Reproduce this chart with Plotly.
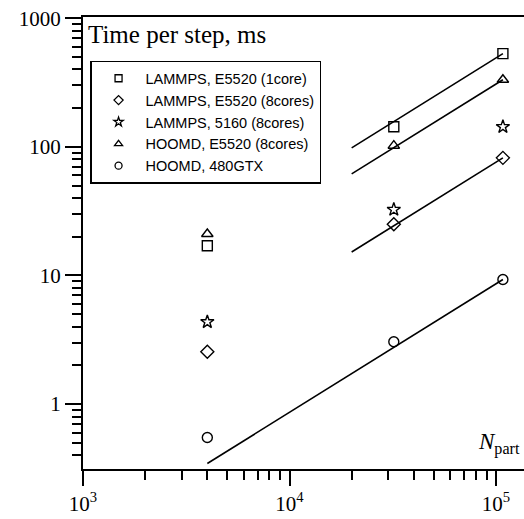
import plotly.graph_objects as go

# Number of particles in each benchmark system
n_part = [4000, 32000, 108000]

# Wall time per MD step, ms
series_names = [
    "LAMMPS, E5520 (1core)",
    "LAMMPS, E5520 (8cores)",
    "LAMMPS, 5160 (8cores)",
    "HOOMD, E5520 (8cores)",
    "HOOMD, 480GTX",
]
lammps_e5520_1core = [17.0, 143.0, 530.0]
lammps_e5520_8cores = [2.55, 25.0, 82.0]
lammps_5160_8cores = [4.35, 32.5, 143.0]
hoomd_e5520_8cores = [21.0, 102.0, 332.0]
hoomd_480gtx = [0.55, 3.05, 9.3]

# Linear-scaling guide lines (start/end particle number, start/end time)
guide_n = [[20000, 108000], [20000, 108000], [20000, 108000], [4000, 108000]]
guide_t = [[98.0, 530.0], [61.5, 332.0], [15.2, 82.0], [0.345, 9.3]]

symbols = ["square-open", "diamond-open", "star-open", "triangle-up-open", "circle-open"]
sizes = [10, 10, 10, 10, 10]
values = [lammps_e5520_1core, lammps_e5520_8cores, lammps_5160_8cores,
          hoomd_e5520_8cores, hoomd_480gtx]

# Tick positions and labels
y_major = [1, 10, 100, 1000]
y_major_text = ["1", "10", "100", "1000"]
x_major = [1e3, 1e4, 1e5]
x_major_text = ["10<sup>3</sup>", "10<sup>4</sup>", "10<sup>5</sup>"]

x_range = [3, 5.1356]
y_range = [-0.505, 3.009]

fig = go.Figure()

for gx, gy in zip(guide_n, guide_t):
    fig.add_trace(go.Scatter(
        x=gx, y=gy, mode="lines", showlegend=False, hoverinfo="skip",
        line=dict(color="black", width=1.6),
    ))

for name, vals, sym, sz in zip(series_names, values, symbols, sizes):
    fig.add_trace(go.Scatter(
        x=n_part, y=vals, mode="markers", name=name, showlegend=False,
        marker=dict(symbol=sym, size=sz, color="black",
                    line=dict(color="black", width=1.4)),
    ))

# Legend entries drawn with smaller symbols
for name, sym in zip(series_names, symbols):
    fig.add_trace(go.Scatter(
        x=[None], y=[None], mode="markers", name=name,
        marker=dict(symbol=sym, size=7, color="black",
                    line=dict(color="black", width=1.3)),
    ))

serif = "Liberation Serif, Times New Roman, serif"
minor_ticks = dict(ticks="outside", ticklen=9, tickwidth=2, tickcolor="black",
                   dtick="D1", showgrid=False)

fig.update_layout(
    width=524, height=519,
    margin=dict(l=83, r=0, t=17, b=50),
    paper_bgcolor="white", plot_bgcolor="white",
    showlegend=True,
    legend=dict(
        x=0.016, y=0.903, xanchor="left", yanchor="top",
        bordercolor="black", borderwidth=1.5, bgcolor="white",
        font=dict(family="Liberation Sans, Arial, sans-serif", size=14.5, color="black"),
        itemwidth=44, tracegroupgap=0,
    ),
    xaxis=dict(
        type="log", range=x_range,
        showline=True, linecolor="black", linewidth=2, mirror=True,
        showgrid=False, zeroline=False,
        ticks="outside", ticklen=15, tickwidth=2, tickcolor="black",
        tickmode="array", tickvals=x_major, ticktext=x_major_text,
        tickfont=dict(family=serif, size=21, color="black"),
        minor=minor_ticks,
    ),
    yaxis=dict(
        type="log", range=y_range,
        showline=True, linecolor="black", linewidth=2, mirror=False,
        showgrid=False, zeroline=False,
        ticks="outside", ticklen=16, tickwidth=2, tickcolor="black",
        tickmode="array", tickvals=y_major, ticktext=y_major_text,
        tickfont=dict(family=serif, size=21, color="black"),
        minor=minor_ticks,
    ),
    annotations=[
        dict(text="Time per step, ms", xref="paper", yref="paper",
             x=0.007, y=0.995, xanchor="left", yanchor="top", showarrow=False,
             font=dict(family=serif, size=25, color="black")),
        dict(text="<i>N</i><sub>part</sub>", xref="paper", yref="paper",
             x=0.995, y=0.02, xanchor="right", yanchor="bottom", showarrow=False,
             font=dict(family=serif, size=23, color="black")),
    ],
)

fig.write_html("out.html")
